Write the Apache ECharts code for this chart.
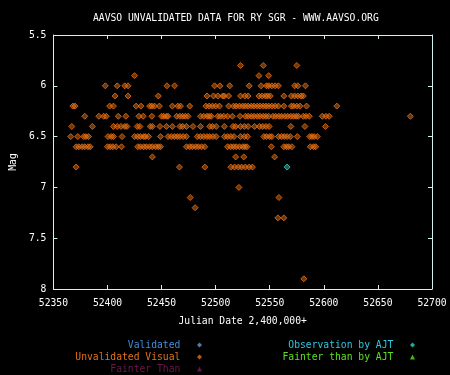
<!DOCTYPE html>
<html>
<head>
<meta charset="utf-8">
<script src="https://cdn.jsdelivr.net/npm/echarts@6/dist/echarts.min.js"></script>
<style>
html,body{margin:0;padding:0;background:#000;}
#chart{width:450px;height:375px;}
</style>
</head>
<body>
<div id="chart"></div>
<script>
// ---- Data (Julian Date 2,400,000+ grouped by visual magnitude) ----
const titleText = 'AAVSO UNVALIDATED DATA FOR RY SGR - WWW.AAVSO.ORG';
const xTicks = [52350, 52400, 52450, 52500, 52550, 52600, 52650, 52700];
const yTicks = [5.5, 6, 6.5, 7, 7.5, 8];

const rowMags = [5.8, 5.9, 6.0, 6.1, 6.2, 6.3, 6.4, 6.5, 6.6, 6.7, 6.8, 7.0, 7.1, 7.2, 7.3, 7.9];

const jdMag5_8 = [52523, 52544, 52575];
const jdMag5_9 = [52425, 52540, 52549];
const jdMag6_0 = [52398, 52409, 52416, 52419, 52455, 52462, 52499, 52504, 52513, 52531, 52542,
                  52547, 52549, 52552, 52555, 52558, 52573, 52576, 52583];
const jdMag6_1 = [52407, 52419, 52447, 52492, 52498, 52502, 52506.5, 52508, 52512, 52523, 52527,
                  52530, 52540, 52543, 52546, 52548, 52550.5, 52563, 52570, 52573, 52576, 52579, 52581];
const jdMag6_2 = [52368, 52370, 52402, 52405.5, 52426.5, 52431, 52439, 52441, 52443.5, 52448,
                  52460, 52465, 52467.5, 52476, 52491, 52494, 52497, 52500, 52503.5, 52512,
                  52516.5, 52519, 52522, 52525, 52527.5, 52530, 52533, 52535.5, 52538.5, 52541,
                  52544, 52546.5, 52549, 52552, 52555, 52558, 52563, 52570, 52572, 52575, 52578,
                  52584, 52612];
const jdMag6_3 = [52379, 52392, 52396.5, 52399, 52410, 52417, 52429, 52433, 52441, 52450, 52452,
                  52454.5, 52456, 52464, 52467, 52469.5, 52472, 52474.5, 52486, 52489, 52492,
                  52494, 52496, 52502, 52504.5, 52507.5, 52511, 52515.5, 52522.5, 52527.5, 52530,
                  52533, 52535.5, 52538.5, 52541, 52544, 52546.5, 52549, 52553, 52555.5, 52558.5,
                  52561, 52564, 52566.5, 52569.5, 52572, 52574.5, 52576.5, 52581, 52583.5,
                  52586.5, 52598.5, 52602, 52605, 52680];
const jdMag6_4 = [52367, 52386, 52405.5, 52409, 52412.5, 52416, 52418, 52427.5, 52430, 52439.5,
                  52441.5, 52448.5, 52454.5, 52460, 52467, 52469.5, 52473, 52479, 52486, 52494.5,
                  52497, 52500.5, 52508, 52516, 52518.5, 52523, 52526.5, 52530, 52536, 52540.5,
                  52543.5, 52546.5, 52549.5, 52569.5, 52582.5, 52601.5];
const jdMag6_5 = [52366, 52372.5, 52378, 52380, 52382.5, 52400.5, 52403.5, 52405.5, 52413.5,
                  52425, 52428, 52430.5, 52433.5, 52435, 52438, 52449, 52456, 52459, 52462,
                  52464.5, 52467, 52470, 52473, 52483, 52486, 52489, 52492, 52494.5, 52497.5,
                  52500.5, 52508, 52511, 52514, 52517, 52523, 52526.5, 52529.5, 52544.5, 52547,
                  52550, 52552, 52558, 52561, 52563.5, 52566, 52569, 52575.5, 52587, 52589,
                  52591, 52594];
const jdMag6_6 = [52371, 52373.5, 52376.5, 52379, 52382, 52384, 52400, 52402.5, 52405, 52408,
                  52413, 52428, 52430.5, 52433.5, 52436, 52439, 52441.5, 52444.5, 52447, 52449,
                  52473, 52476, 52478.5, 52481.5, 52484, 52487, 52490, 52511, 52514, 52516.5,
                  52519, 52522, 52525, 52527, 52529, 52551.5, 52563, 52565.5, 52567.5, 52570.5,
                  52587.5, 52590.5, 52592.5];
const jdMag6_7 = [52441.5, 52518.5, 52526, 52554.5];
const jdMag6_8 = [52371, 52466.5, 52490, 52514, 52517.5, 52521, 52524, 52527.5, 52531, 52534];
const jdMag7_0 = [52521.5];
const jdMag7_1 = [52476.5, 52558.5];
const jdMag7_2 = [52481];
const jdMag7_3 = [52557.5, 52563];
const jdMag7_9 = [52581.5];

const rowDates = [jdMag5_8, jdMag5_9, jdMag6_0, jdMag6_1, jdMag6_2, jdMag6_3, jdMag6_4, jdMag6_5,
                  jdMag6_6, jdMag6_7, jdMag6_8, jdMag7_0, jdMag7_1, jdMag7_2, jdMag7_3, jdMag7_9];

// Observation by AJT
const ajtJD = [52566];
const ajtMag = [6.8];

const legendLeftNames = ['Validated', 'Unvalidated Visual', 'Fainter Than'];
const legendRightNames = ['Observation by AJT', 'Fainter than by AJT'];

// ---- Build ----
const unvalidated = [];
rowMags.forEach((m, i) => rowDates[i].forEach(jd => unvalidated.push([jd, m])));
const ajtData = ajtJD.map((jd, i) => [jd, ajtMag[i]]);

const FONT = 'DejaVu Sans Mono';
const FS = 9.7;
const AXIS_COLOR = '#d2f2f2';
const ORANGE = '#ea7214';

const chart = echarts.init(document.getElementById('chart'), null, {renderer: 'canvas'});

const baseX = {
  type: 'value', min: xTicks[0], max: xTicks[xTicks.length - 1], interval: 50,
  axisLine: {lineStyle: {color: AXIS_COLOR, width: 1}},
  axisTick: {inside: true, length: 4, lineStyle: {color: AXIS_COLOR}},
  splitLine: {show: false}
};
const baseY = {
  type: 'value', min: yTicks[0], max: yTicks[yTicks.length - 1], interval: 0.5, inverse: true,
  axisLine: {lineStyle: {color: AXIS_COLOR, width: 1}},
  axisTick: {inside: true, length: 4, lineStyle: {color: AXIS_COLOR}},
  splitLine: {show: false}
};

function legendItem(name, color, icon, iconColor) {
  return {name: name + '  ', icon: icon,
          itemStyle: {color: iconColor, borderWidth: 0},
          textStyle: {color: color}};
}

const option = {
  backgroundColor: '#000000',
  animation: false,
  title: {
    text: titleText, left: 93, top: 13, padding: 0,
    textStyle: {color: '#ffffff', fontFamily: FONT, fontSize: FS, fontWeight: 'normal'}
  },
  grid: {left: 48, right: 18, top: 35, bottom: 86, containLabel: false},
  xAxis: [
    Object.assign({}, baseX, {
      position: 'bottom',
      name: 'Julian Date 2,400,000+', nameLocation: 'middle', nameGap: 27,
      nameTextStyle: {color: '#ffffff', fontFamily: FONT, fontSize: FS},
      axisLabel: {color: '#ffffff', fontFamily: FONT, fontSize: FS, margin: 9,
                  formatter: v => String(v)}
    }),
    Object.assign({}, baseX, {position: 'top', axisLabel: {show: false}})
  ],
  yAxis: [
    Object.assign({}, baseY, {
      position: 'left',
      name: 'Mag', nameLocation: 'middle', nameGap: 32,
      nameTextStyle: {color: '#ffffff', fontFamily: FONT, fontSize: FS},
      axisLabel: {color: '#ffffff', fontFamily: FONT, fontSize: FS, margin: 7,
                  formatter: v => String(v)}
    }),
    Object.assign({}, baseY, {position: 'right', axisLabel: {show: false}})
  ],
  legend: [
    {
      orient: 'vertical', align: 'right', right: 248, top: 339, padding: 0,
      itemGap: 0, itemWidth: 5, itemHeight: 5, selectedMode: false,
      textStyle: {fontFamily: FONT, fontSize: FS, lineHeight: 12},
      data: [
        legendItem('Validated', '#3f8fdc', 'diamond', '#6c98cc'),
        legendItem('Unvalidated Visual', '#e0741e', 'diamond', ORANGE),
        legendItem('Fainter Than', '#6c1a4c', 'triangle', '#7a1d55')
      ]
    },
    {
      orient: 'vertical', align: 'right', right: 35, top: 339, padding: 0,
      itemGap: 0, itemWidth: 5, itemHeight: 5, selectedMode: false,
      textStyle: {fontFamily: FONT, fontSize: FS, lineHeight: 12},
      data: [
        legendItem('Observation by AJT', '#2ec8e2', 'diamond', '#2ad4c6'),
        legendItem('Fainter than by AJT', '#5ee021', 'triangle', '#5ee021')
      ]
    }
  ],
  series: [
    {name: legendLeftNames[0] + '  ', type: 'scatter', data: [], symbol: 'diamond', itemStyle: {color: '#6c98cc'}},
    {
      name: legendLeftNames[1] + '  ', type: 'scatter', data: unvalidated,
      symbol: 'diamond', symbolSize: 6,
      itemStyle: {color: 'rgba(234,114,20,0.6)', borderColor: ORANGE, borderWidth: 1},
      emphasis: {disabled: true}
    },
    {name: legendLeftNames[2] + '  ', type: 'scatter', data: [], symbol: 'triangle', itemStyle: {color: '#7a1d55'}},
    {
      name: legendRightNames[0] + '  ', type: 'scatter', data: ajtData, z: 5,
      symbol: 'diamond', symbolSize: 6,
      itemStyle: {color: 'rgba(42,212,198,0.6)', borderColor: '#2ad4c6', borderWidth: 1},
      emphasis: {disabled: true}
    },
    {name: legendRightNames[1] + '  ', type: 'scatter', data: [], symbol: 'triangle', itemStyle: {color: '#5ee021'}}
  ]
};
chart.setOption(option);
</script>
</body>
</html>
